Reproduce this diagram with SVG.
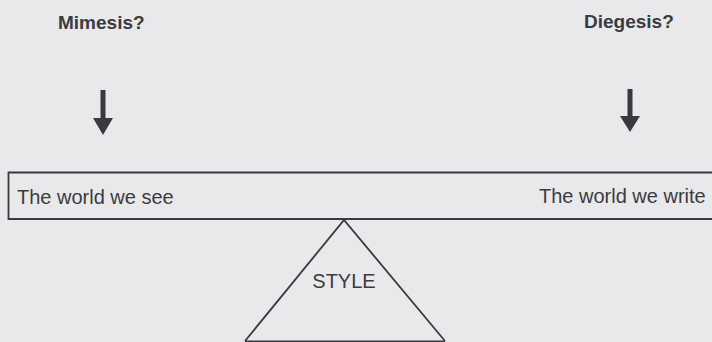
<svg xmlns="http://www.w3.org/2000/svg" width="712" height="342" viewBox="0 0 712 342">
<style>
.t{font-family:"Liberation Sans",Arial,sans-serif;fill:#3c3b40}
.b{font-weight:bold;font-size:19px}
.r{font-size:20px}
.ln{fill:none;stroke:#3a393e;stroke-width:1.8}
.ar{fill:#3a393e}
</style>
<rect width="712" height="342" fill="#e9e9eb"/>
<g id="mimesis"><text class="t b" x="58" y="29">Mimesis?</text></g>
<g id="diegesis"><text class="t b" x="584" y="28">Diegesis?</text></g>
<g id="beam">
<path class="ln" d="M720 172.5 H8.5 V219 H720"/>
<text class="t r" x="17" y="204">The world we see</text>
<text class="t r" x="539" y="203">The world we write</text>
</g>
<g id="style">
<path class="ln" d="M245 341 L344 220 L445 341"/>
<line class="ln" x1="245" y1="341.5" x2="445" y2="341.5"/>
<text class="t r" x="344" y="288" text-anchor="middle">STYLE</text>
</g>
<g id="connectors">
<path class="ar" d="M100.5 90 H105.5 V118 H113 L103 135 L93 118 H100.5 Z"/>
<path class="ar" d="M627.5 89 H632.5 V116 H640 L630 132 L620 116 H627.5 Z"/>
</g>
</svg>
